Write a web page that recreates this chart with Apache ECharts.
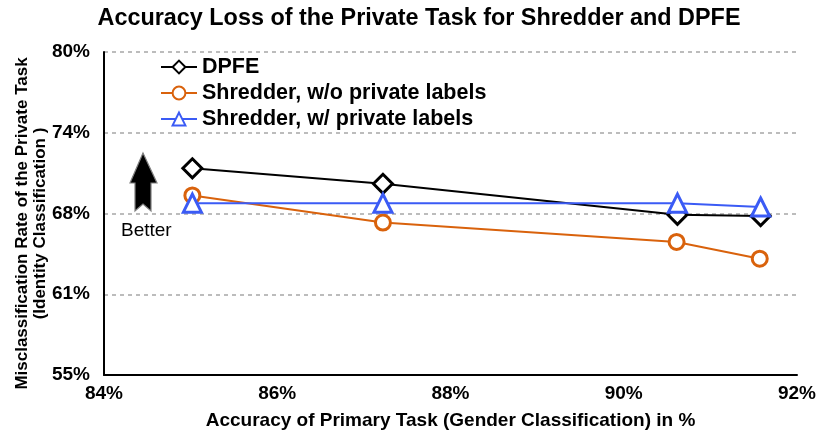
<!DOCTYPE html>
<html>
<head>
<meta charset="utf-8">
<script src="https://cdn.jsdelivr.net/npm/echarts@6/dist/echarts.min.js"></script>
<style>html,body{margin:0;padding:0;background:#fff;}#c{width:830px;height:445px;}</style>
</head>
<body>
<div id="c"></div>
<script>
const seriesNames = ['DPFE', 'Shredder, w/o private labels', 'Shredder, w/ private labels'];
const dpfeX = [85.02, 87.22, 90.62, 91.58];
const dpfeY = [71.0, 69.8, 67.4, 67.3];
const woX = [85.02, 87.22, 90.61, 91.57];
const woY = [68.9, 66.8, 65.3, 64.0];
const wX = [85.02, 87.22, 90.62, 91.58];
const wY = [68.3, 68.3, 68.3, 68.0];
const xTicks = [84, 86, 88, 90, 92];
const yTicks = [55, 61.25, 67.5, 73.75, 80];

const FONT = 'Liberation Sans, Arial, Helvetica, sans-serif';
const zip = (a, b) => a.map((v, i) => [v, b[i]]);
const chart = echarts.init(document.getElementById('c'));
const colors = ['#000000', '#d9620c', '#3b5bf5'];
const symbols = ['diamond', 'circle', 'triangle'];
const symSizes = [19, 15, 18];
const datas = [zip(dpfeX, dpfeY), zip(woX, woY), zip(wX, wY)];

chart.setOption({
  animation: false,
  textStyle: { fontFamily: FONT },
  title: {
    text: 'Accuracy Loss of the Private Task for Shredder and DPFE',
    left: 414, textAlign: 'center', top: 2,
    textStyle: { fontSize: 23.4, fontWeight: 'bold', color: '#000', fontFamily: FONT }
  },
  legend: {
    orient: 'vertical', left: 155, top: 51,
    itemWidth: 36, itemHeight: 16, itemGap: 4,
    textStyle: { fontSize: 21.5, fontWeight: 'bold', color: '#000', fontFamily: FONT },
    data: seriesNames
  },
  grid: { left: 104, right: 33, top: 52, bottom: 70, containLabel: false, outerBoundsMode: 'none' },
  xAxis: {
    type: 'value', min: xTicks[0], max: xTicks[xTicks.length - 1], interval: 2,
    name: 'Accuracy of Primary Task (Gender Classification) in %',
    nameLocation: 'middle', nameGap: 36, nameMoveOverlap: false,
    nameTextStyle: { fontSize: 19, fontWeight: 'bold', color: '#000', fontFamily: FONT },
    axisLine: { lineStyle: { color: '#000', width: 2 } },
    axisTick: { show: false },
    splitLine: { show: false },
    axisLabel: { fontSize: 19, fontWeight: 'bold', color: '#000', margin: 9, formatter: v => v + '%' }
  },
  yAxis: {
    type: 'value', min: yTicks[0], max: yTicks[yTicks.length - 1], interval: 6.25,
    name: 'Misclassification Rate of the Private Task\n(Identity Classification )',
    nameLocation: 'middle', nameGap: 55, nameRotate: 90, nameMoveOverlap: false,
    nameTextStyle: { fontSize: 17, fontWeight: 'bold', color: '#000', lineHeight: 18, fontFamily: FONT, padding: [0, 20, 0, 0] },
    axisLine: { show: true, lineStyle: { color: '#000', width: 2 } },
    axisTick: { show: false },
    splitLine: { show: true, lineStyle: { color: '#a6a6a6', type: [4, 4], width: 1.5 } },
    axisLabel: { fontSize: 19, fontWeight: 'bold', color: '#000', margin: 14, formatter: v => Math.round(v) + '%' }
  },
  graphic: [
    {
      type: 'polygon', z: 100,
      shape: { points: [[143, 153], [157, 183], [151, 183], [151, 211], [143, 204], [135, 211], [135, 183], [130, 183]] },
      style: { fill: '#000', stroke: '#7f7f7f', lineWidth: 1.2 }
    },
    {
      type: 'text', left: 121, top: 221, z: 100,
      style: { text: 'Better', fontSize: 19, fill: '#000', fontFamily: FONT }
    }
  ],
  series: seriesNames.map((n, i) => ({
    name: n, type: 'line', data: datas[i],
    symbol: symbols[i], symbolSize: symSizes[i],
    lineStyle: { color: colors[i], width: 2 },
    itemStyle: { color: '#fff', borderColor: colors[i], borderWidth: 3 },
    z: 3 + i
  }))
});
</script>
</body>
</html>
